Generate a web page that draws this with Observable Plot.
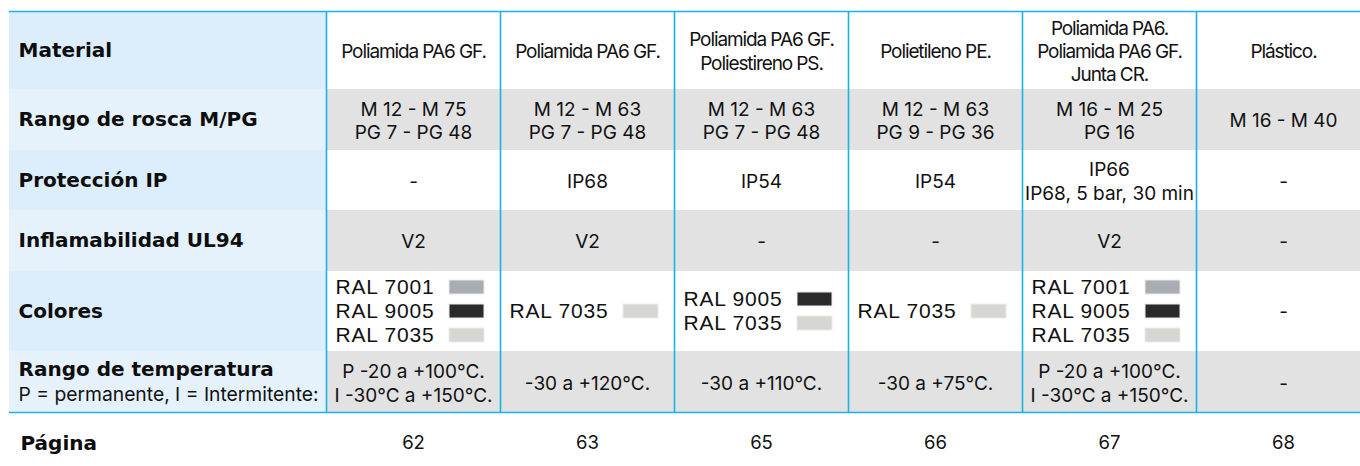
<!DOCTYPE html>
<html>
<head>
<meta charset="utf-8">
<script src="https://cdn.jsdelivr.net/npm/d3@7"></script>
<script src="https://cdn.jsdelivr.net/npm/@observablehq/plot@0.6"></script>
<style>
  html, body { margin: 0; padding: 0; background: #fff; overflow: hidden; }
  #chart svg { display: block; overflow: hidden; }
</style>
</head>
<body>
<div id="chart"></div>
<script>
// ---------- data ----------
const rowLabels = ["Material", "Rango de rosca M/PG", "Protección IP", "Inflamabilidad UL94", "Colores", "Rango de temperatura"];
const rowSubLabel = "P = permanente, I = Intermitente:";
const pageLabel = "Página";

const material = ["Poliamida PA6 GF.", "Poliamida PA6 GF.", "Poliamida PA6 GF.\nPoliestireno PS.", "Polietileno PE.", "Poliamida PA6.\nPoliamida PA6 GF.\nJunta CR.", "Plástico."];
const rosca = ["M 12 - M 75\nPG 7 - PG 48", "M 12 - M 63\nPG 7 - PG 48", "M 12 - M 63\nPG 7 - PG 48", "M 12 - M 63\nPG 9 - PG 36", "M 16 - M 25\nPG 16", "M 16 - M 40"];
const proteccion = ["-", "IP68", "IP54", "IP54", "IP66\nIP68, 5 bar, 30 min", "-"];
const ul94 = ["V2", "V2", "-", "-", "V2", "-"];
const colores = [["RAL 7001", "RAL 9005", "RAL 7035"], ["RAL 7035"], ["RAL 9005", "RAL 7035"], ["RAL 7035"], ["RAL 7001", "RAL 9005", "RAL 7035"], []];
const temperatura = ["P -20 a +100°C.\nI -30°C a +150°C.", "-30 a +120°C.", "-30 a +110°C.", "-30 a +75°C.", "P -20 a +100°C.\nI -30°C a +150°C.", "-"];
const pagina = ["62", "63", "65", "66", "67", "68"];
const ralNames = ["RAL 7001", "RAL 9005", "RAL 7035"];
const ralColors = ["#a9acb2", "#2b2b2d", "#d6d6d3"];

// ---------- layout (pixels) ----------
const X_EDGES = [9, 326, 500, 674, 848, 1022, 1196, 1370];   // label column, then 6 data columns
const Y_EDGES = [11, 89, 150, 210, 271, 351, 412, 474];      // 6 table rows + page row
const COL_W = 174;
const BLUE = "#19b3ea";
const GRAY = "#e2e2e2";
const LABEL_BG = ["#dcedfb", "#e5f2fc"];
const TXT = "#111111";
const DATA_FONT = "Inter, 'Noto Sans', sans-serif";
const LABEL_FONT = "'DejaVu Sans', sans-serif";
const RAL_FONT = "'Liberation Sans', Arial, sans-serif";

const nCols = material.length;
const nRows = rowLabels.length;
const cols = d3.range(nCols);
const colorRow = rowLabels.indexOf("Colores");
const colorRowH = Y_EDGES[colorRow + 1] - Y_EDGES[colorRow];
const lineStep = 24 / colorRowH;

const swatchItems = colores.flatMap((list, c) =>
  list.map((name, k) => ({c, name, y: colorRow + 0.5 + (k - (list.length - 1) / 2) * lineStep}))
);
const emptyColors = cols.filter(c => colores[c].length === 0);

const rowsData = [material, rosca, proteccion, ul94, null, null];
const cellTexts = rowsData.flatMap((arr, r) => arr ? arr.map((t, c) => ({r, c, t})) : []);
const tempRow = nRows - 1;

const textBase = {fill: TXT, fontFamily: DATA_FONT, fontSize: 19};
const labelBase = {fill: "#0d0d0d", fontFamily: LABEL_FONT, fontWeight: "bold", fontSize: 20, textAnchor: "start"};

const svg = Plot.plot({
  width: 1360,
  height: 466,
  margin: 0,
  style: {background: "#fff"},
  x: {type: "linear", domain: d3.range(-1, nCols + 1), range: X_EDGES, axis: null},
  y: {type: "linear", domain: d3.range(0, nRows + 2), range: Y_EDGES, axis: null},
  marks: [
    // label column backgrounds
    Plot.rect(rowLabels, {x1: -1, x2: 0, y1: (d, i) => i, y2: (d, i) => i + 1, fill: (d, i) => LABEL_BG[i % 2]}),
    // gray striped data rows
    Plot.rect(d3.range(nRows).filter(i => i % 2 === 1), {x1: 0, x2: nCols, y1: d => d, y2: d => d + 1, fill: GRAY}),
    // blue rules
    Plot.ruleX(d3.range(0, nCols + 1), {x: d => d, y1: 0, y2: nRows, stroke: BLUE, strokeWidth: 1.6}),
    Plot.ruleY([0, nRows], {y: d => d, x1: -1, x2: nCols, stroke: BLUE, strokeWidth: 1.6}),
    // row labels
    Plot.text(rowLabels.slice(0, tempRow), {x: -1, y: (d, i) => i + 0.5, dx: 9, text: d => d, ...labelBase}),
    Plot.text([rowLabels[tempRow]], {x: -1, y: tempRow + 0.5, dx: 9, dy: -12, text: d => d, ...labelBase}),
    Plot.text([rowSubLabel], {x: -1, y: tempRow + 0.5, dx: 9, dy: 13, text: d => d, textAnchor: "start",
      ...textBase, fontSize: 19.3}),
    Plot.text([pageLabel], {x: -1, y: nRows + 0.5, dx: 11, text: d => d, ...labelBase}),
    // cell texts
    Plot.text(cellTexts, {x: d => d.c + 0.5, y: d => d.r + 0.5, text: "t", ...textBase, lineHeight: 1.22}),
    Plot.text(temperatura, {x: (d, i) => i + 0.5, y: tempRow + 0.5, text: d => d, ...textBase, lineHeight: 1.3}),
    // colors row
    Plot.rect(swatchItems, {x1: d => d.c + 123 / COL_W, x2: d => d.c + 158 / COL_W,
      y1: d => d.y - 7 / colorRowH, y2: d => d.y + 7 / colorRowH,
      fill: d => ralColors[ralNames.indexOf(d.name)], stroke: "#ecebe4", strokeWidth: 1}),
    Plot.text(swatchItems, {x: d => d.c, y: d => d.y, dx: 9, text: "name", textAnchor: "start",
      fill: TXT, fontFamily: RAL_FONT, fontSize: 21}),
    Plot.text(emptyColors, {x: d => d + 0.5, y: colorRow + 0.5, text: () => "-", ...textBase}),
    // page row
    Plot.text(pagina, {x: (d, i) => i + 0.5, y: nRows + 0.5, text: d => d, ...textBase, fontSize: 18.5})
  ]
});

// letter-spacing tweaks by content
const condensed = new Set(material.map(s => s.replace(/\n/g, "")));
const ralSet = new Set(ralNames);
d3.select(svg).selectAll("text").each(function() {
  const t = this.textContent;
  if (condensed.has(t)) this.setAttribute("letter-spacing", "-1.1");
  else if (ralSet.has(t)) this.setAttribute("letter-spacing", "0.8");
});

document.getElementById("chart").appendChild(svg);
</script>
</body>
</html>
